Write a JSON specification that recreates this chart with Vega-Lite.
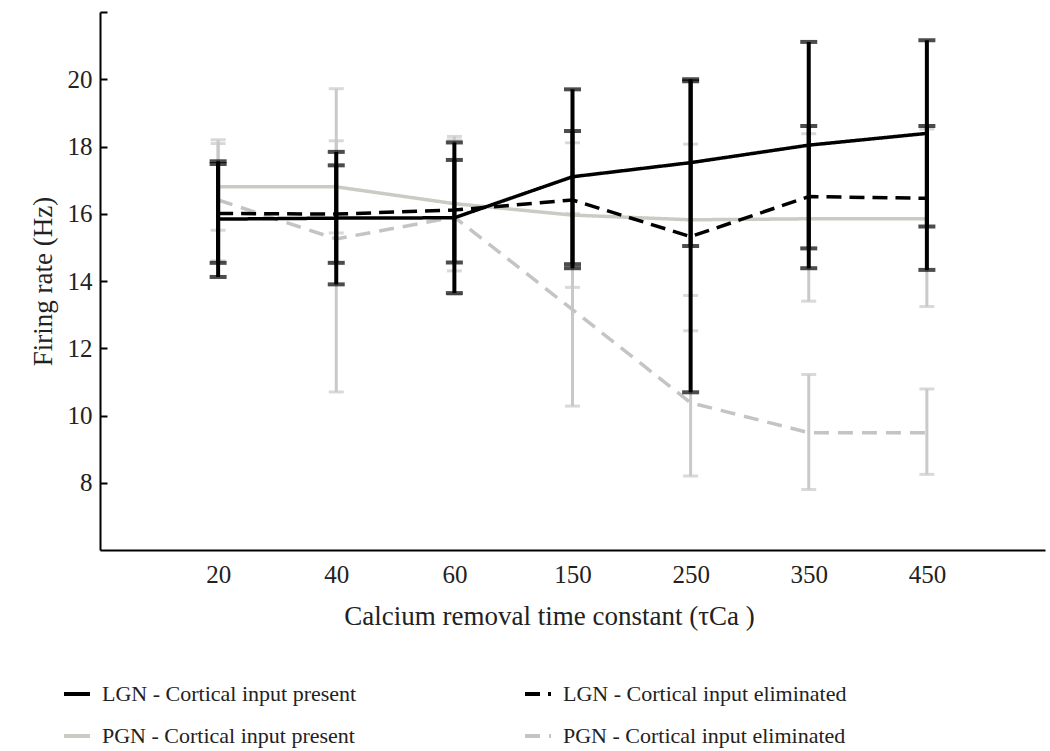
{
  "$schema": "https://vega.github.io/schema/vega-lite/v6.json",
  "width": 945,
  "height": 538,
  "autosize": {"type": "none"},
  "padding": {"left": 100, "top": 12, "right": 5, "bottom": 201},
  "background": "white",
  "config": {
    "view": {"stroke": null},
    "font": "Liberation Serif",
    "axis": {
      "grid": false,
      "domainColor": "#000000",
      "domainWidth": 2,
      "tickColor": "#000000",
      "tickWidth": 2,
      "labelFont": "Liberation Serif",
      "labelFontSize": 25,
      "labelColor": "#222222",
      "titleFont": "Liberation Serif",
      "titleFontSize": 27,
      "titleFontWeight": "normal",
      "titleColor": "#222222"
    },
    "legend": {
      "labelFont": "Liberation Serif",
      "labelFontSize": 22,
      "labelColor": "#222222",
      "labelLimit": 500
    }
  },
  "data": {
    "values": [
      {"tau": "20", "series": "LGN - Cortical input present", "group": "LGN", "mean": 15.84, "lo": 14.12, "hi": 17.56},
      {"tau": "40", "series": "LGN - Cortical input present", "group": "LGN", "mean": 15.87, "lo": 13.9, "hi": 17.84},
      {"tau": "60", "series": "LGN - Cortical input present", "group": "LGN", "mean": 15.88, "lo": 13.64, "hi": 18.12},
      {"tau": "150", "series": "LGN - Cortical input present", "group": "LGN", "mean": 17.1, "lo": 14.5, "hi": 19.7},
      {"tau": "250", "series": "LGN - Cortical input present", "group": "LGN", "mean": 17.52, "lo": 15.04, "hi": 20.0},
      {"tau": "350", "series": "LGN - Cortical input present", "group": "LGN", "mean": 18.04, "lo": 14.97, "hi": 21.11},
      {"tau": "450", "series": "LGN - Cortical input present", "group": "LGN", "mean": 18.39, "lo": 15.62, "hi": 21.16},
      {"tau": "20", "series": "LGN - Cortical input eliminated", "group": "LGN", "mean": 16.01, "lo": 14.54, "hi": 17.48},
      {"tau": "40", "series": "LGN - Cortical input eliminated", "group": "LGN", "mean": 15.99, "lo": 14.54, "hi": 17.44},
      {"tau": "60", "series": "LGN - Cortical input eliminated", "group": "LGN", "mean": 16.11, "lo": 14.55, "hi": 17.6},
      {"tau": "150", "series": "LGN - Cortical input eliminated", "group": "LGN", "mean": 16.41, "lo": 14.38, "hi": 18.46},
      {"tau": "250", "series": "LGN - Cortical input eliminated", "group": "LGN", "mean": 15.32, "lo": 10.69, "hi": 19.94},
      {"tau": "350", "series": "LGN - Cortical input eliminated", "group": "LGN", "mean": 16.51, "lo": 14.38, "hi": 18.61},
      {"tau": "450", "series": "LGN - Cortical input eliminated", "group": "LGN", "mean": 16.46, "lo": 14.33, "hi": 18.61},
      {"tau": "20", "series": "PGN - Cortical input present", "group": "PGN", "mean": 16.8, "lo": 15.51, "hi": 18.09},
      {"tau": "40", "series": "PGN - Cortical input present", "group": "PGN", "mean": 16.8, "lo": 15.43, "hi": 18.17},
      {"tau": "60", "series": "PGN - Cortical input present", "group": "PGN", "mean": 16.3, "lo": 14.3, "hi": 18.3},
      {"tau": "150", "series": "PGN - Cortical input present", "group": "PGN", "mean": 15.96, "lo": 13.81, "hi": 18.11},
      {"tau": "250", "series": "PGN - Cortical input present", "group": "PGN", "mean": 15.82, "lo": 13.57, "hi": 18.07},
      {"tau": "350", "series": "PGN - Cortical input present", "group": "PGN", "mean": 15.85, "lo": 13.4, "hi": 18.38},
      {"tau": "450", "series": "PGN - Cortical input present", "group": "PGN", "mean": 15.85, "lo": 13.24, "hi": 18.52},
      {"tau": "20", "series": "PGN - Cortical input eliminated", "group": "PGN", "mean": 16.41, "lo": 14.6, "hi": 18.2},
      {"tau": "40", "series": "PGN - Cortical input eliminated", "group": "PGN", "mean": 15.25, "lo": 10.7, "hi": 19.72},
      {"tau": "60", "series": "PGN - Cortical input eliminated", "group": "PGN", "mean": 15.9, "lo": 13.6, "hi": 18.2},
      {"tau": "150", "series": "PGN - Cortical input eliminated", "group": "PGN", "mean": 13.15, "lo": 10.28, "hi": 16.0},
      {"tau": "250", "series": "PGN - Cortical input eliminated", "group": "PGN", "mean": 10.38, "lo": 8.2, "hi": 12.52},
      {"tau": "350", "series": "PGN - Cortical input eliminated", "group": "PGN", "mean": 9.49, "lo": 7.8, "hi": 11.22},
      {"tau": "450", "series": "PGN - Cortical input eliminated", "group": "PGN", "mean": 9.49, "lo": 8.25, "hi": 10.79}
    ]
  },
  "encoding": {
    "x": {
      "field": "tau",
      "type": "ordinal",
      "sort": ["20", "40", "60", "150", "250", "350", "450"],
      "scale": {"type": "point", "padding": 1},
      "axis": {
        "title": "Calcium removal time constant (τCa )",
        "labelAngle": 0,
        "ticks": false,
        "labelPadding": 12,
        "titlePadding": 16,
        "titleX": 449
      }
    }
  },
  "layer": [
    {
      "transform": [{"filter": "datum.group == 'PGN'"}],
      "mark": {"type": "rule", "color": "#c9c9c9", "strokeWidth": 3},
      "encoding": {
        "y": {
          "field": "lo",
          "type": "quantitative",
          "title": "Firing rate (Hz)",
          "scale": {"domain": [6, 22], "nice": false, "zero": false},
          "axis": {
            "title": "Firing rate (Hz)",
            "values": [8, 10, 12, 14, 16, 18, 20, 22],
            "labelExpr": "datum.value == 22 ? '' : datum.label",
            "ticks": true,
            "tickSize": -7,
            "tickColor": "#000000",
            "tickWidth": 2,
            "labelPadding": 15,
            "titlePadding": 10,
            "labelFontSize": 25,
            "titleFontSize": 27
          }
        },
        "y2": {"field": "hi"}
      }
    },
    {
      "transform": [{"filter": "datum.group == 'PGN'"}],
      "mark": {"type": "tick", "color": "#c9c9c9", "thickness": 3, "size": 15},
      "encoding": {"y": {"field": "lo", "type": "quantitative", "title": "Firing rate (Hz)"}}
    },
    {
      "transform": [{"filter": "datum.group == 'PGN'"}],
      "mark": {"type": "tick", "color": "#c9c9c9", "thickness": 3, "size": 15},
      "encoding": {"y": {"field": "hi", "type": "quantitative", "title": "Firing rate (Hz)"}}
    },
    {
      "transform": [{"filter": "datum.group == 'PGN'"}],
      "mark": {"type": "line", "strokeWidth": 3.5},
      "encoding": {
        "y": {"field": "mean", "type": "quantitative", "title": "Firing rate (Hz)"},
        "color": {
          "field": "series",
          "type": "nominal",
          "scale": {
            "domain": ["LGN - Cortical input present", "LGN - Cortical input eliminated", "PGN - Cortical input present", "PGN - Cortical input eliminated"],
            "range": ["#000000", "#000000", "#cbcac3", "#c4c4c4"]
          },
          "legend": {
            "title": null,
            "orient": "none",
            "legendX": -38,
            "legendY": 667,
            "columns": 2,
            "direction": "horizontal",
            "columnPadding": 160,
            "rowPadding": 16,
            "symbolType": "stroke",
            "symbolSize": 676,
            "symbolStrokeWidth": 4,
            "labelOffset": 10,
            "encode": {
              "symbols": {
                "update": {
                  "strokeDash": {"signal": "indexof(datum.label, 'eliminated') >= 0 ? [10, 6] : [1, 0]"}
                }
              }
            }
          }
        },
        "strokeDash": {
          "field": "series",
          "type": "nominal",
          "scale": {
            "domain": ["LGN - Cortical input present", "LGN - Cortical input eliminated", "PGN - Cortical input present", "PGN - Cortical input eliminated"],
            "range": [[1, 0], [15, 8], [1, 0], [15, 9]]
          },
          "legend": null
        },
        "detail": {"field": "series"}
      }
    },
    {
      "transform": [{"filter": "datum.group == 'LGN'"}],
      "mark": {"type": "rule", "color": "#000000", "strokeWidth": 4},
      "encoding": {
        "y": {"field": "lo", "type": "quantitative", "title": "Firing rate (Hz)"},
        "y2": {"field": "hi"}
      }
    },
    {
      "transform": [{"filter": "datum.group == 'LGN'"}],
      "mark": {"type": "tick", "color": "#000000", "thickness": 4, "size": 17},
      "encoding": {"y": {"field": "lo", "type": "quantitative", "title": "Firing rate (Hz)"}}
    },
    {
      "transform": [{"filter": "datum.group == 'LGN'"}],
      "mark": {"type": "tick", "color": "#000000", "thickness": 4, "size": 17},
      "encoding": {"y": {"field": "hi", "type": "quantitative", "title": "Firing rate (Hz)"}}
    },
    {
      "transform": [{"filter": "datum.group == 'LGN'"}],
      "mark": {"type": "line", "strokeWidth": 3.5},
      "encoding": {
        "y": {"field": "mean", "type": "quantitative", "title": "Firing rate (Hz)"},
        "color": {"field": "series", "type": "nominal"},
        "strokeDash": {"field": "series", "type": "nominal", "legend": null},
        "detail": {"field": "series"}
      }
    }
  ]
}
